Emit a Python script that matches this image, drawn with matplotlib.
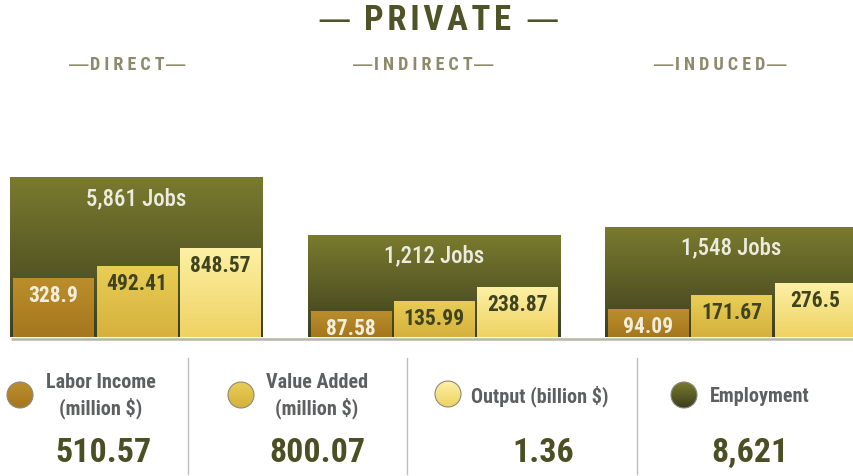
import numpy as np
import matplotlib
matplotlib.use('Agg')
import matplotlib.pyplot as plt
from matplotlib.patches import Circle
from matplotlib.colors import LinearSegmentedColormap

plt.rcParams['font.family'] = ['Roboto Condensed', 'Liberation Sans Narrow', 'Roboto', 'DejaVu Sans']

# ================================================================================
# data
groups = ['DIRECT', 'INDIRECT', 'INDUCED']
jobs = [5861, 1212, 1548]
labor_income = [328.9, 87.58, 94.09]      # million $
value_added = [492.41, 135.99, 171.67]    # million $
output = [848.57, 238.87, 276.5]          # million $

legend_labels = ['Labor Income\n(million $)', 'Value Added\n(million $)',
                 'Output (billion $)', 'Employment']
totals = ['%.2f' % sum(labor_income), '%.2f' % sum(value_added),
          '%.2f' % (sum(output) / 1000), '{:,}'.format(sum(jobs))]

# ================================================================================
# colours (top, bottom of gradient)
c_jobs = ('#7a7b2e', '#3c3e1e')
c_labor = ('#bb8e2c', '#a5771e')
c_value = ('#e9ce56', '#d5b13c')
c_output = ('#fdf1a6', '#eed262')
dark_text = '#40431f'
num_color = '#4a4f24'
title_color = '#4e5427'
sub_color = '#8e8a6c'

W, H = 854, 476
fig = plt.figure(figsize=(W / 100, H / 100), dpi=100)
fig.patch.set_facecolor('white')

# bars live between y=160px and y=337px
rect = [0, 1 - 337 / H, 1, 177 / H]
ax_jobs = fig.add_axes(rect)
ax = fig.add_axes(rect)
ax.patch.set_alpha(0)


def fwd(v):
    return np.sign(v) * np.abs(v) ** 0.2


def inv(y):
    return np.sign(y) * np.abs(y) ** 5


for a in (ax_jobs, ax):
    a.set_yscale('function', functions=(fwd, inv))
    a.set_xlim(-0.459, 2.412)
    a.axis('off')
ax_jobs.set_ylim(6.17, 8680)
ax.set_ylim(22.5, 6654)


def grad_fill(a, patch, top, bot):
    trans = a.transData + a.transAxes.inverted()
    x0, y0 = patch.get_x(), patch.get_y()
    (ax0, ay0) = trans.transform((x0, max(y0, 1e-9)))
    (ax1, ay1) = trans.transform((x0 + patch.get_width(), y0 + patch.get_height()))
    ay0 = max(ay0, 0)
    cmap = LinearSegmentedColormap.from_list('g', [bot, top])
    im = a.imshow(np.linspace(0, 1, 256).reshape(-1, 1), cmap=cmap, origin='lower',
                  extent=[ax0, ax1, ay0, ay1], transform=a.transAxes, aspect='auto',
                  zorder=patch.get_zorder() + 0.1, interpolation='bilinear')
    im.set_clip_path(patch)


x = np.arange(len(groups))

# employment background bars
jb = ax_jobs.bar(x, jobs, width=0.85, color=c_jobs[1], linewidth=0)
for b, j in zip(jb, jobs):
    grad_fill(ax_jobs, b, *c_jobs)
    ax_jobs.annotate('{:,} Jobs'.format(j), xy=(b.get_x() + b.get_width() / 2, j),
                     xytext=(0, -15), textcoords='offset points', ha='center', va='center',
                     fontsize=16.5, weight='medium', color='#ecebdf', zorder=5)

# money bars
series = [(labor_income, c_labor, '#f3eddb'), (value_added, c_value, dark_text),
          (output, c_output, dark_text)]
offsets = [-0.28, 0.0, 0.28]
for (vals, cols, tcol), off in zip(series, offsets):
    bars = ax.bar(x + off, vals, width=0.269, color=cols[1], linewidth=0)
    for b, v in zip(bars, vals):
        grad_fill(ax, b, *cols)
        t = ax.annotate(str(v), xy=(b.get_x() + b.get_width() / 2, v),
                        xytext=(0, -13), textcoords='offset points', ha='center', va='center',
                        fontsize=15.5, weight='bold', color=tcol, zorder=5)
        t.set_clip_on(True)

for a in (ax_jobs, ax):
    a.set_xlim(-0.459, 2.412)
ax_jobs.set_ylim(6.17, 8680)
ax.set_ylim(22.5, 6654)

# ================================================================================
# overlay in pixel coordinates for titles / legend
ov = fig.add_axes([0, 0, 1, 1], zorder=10)
ov.set_xlim(0, W)
ov.set_ylim(H, 0)
ov.axis('off')
ov.patch.set_alpha(0)


def dashed(xc, yc, word, size, dash_size, gap, color):
    t = ov.text(xc, yc, word, ha='center', va='center', fontsize=size,
                weight='bold', color=color)
    for side, ha, sgn in [(0, 'right', -1), (1, 'left', 1)]:
        ov.annotate('\u2014', xy=(side, 0.5), xycoords=t, xytext=(sgn * gap, 0),
                    textcoords='offset points', ha=ha, va='center', fontsize=dash_size,
                    family='DejaVu Sans', color=color)


dashed(438, 20, '\u200a'.join('PRIVATE'), 25, 24, 10, title_color)
sub_x = [127, 423, 720]
for g, sx in zip(groups, sub_x):
    dashed(sx, 65, ' '.join(g), 13, 15.5, 0.5, sub_color)

ov.plot([11, W], [338.5, 338.5], color='#b8b5a7', lw=1.8, solid_capstyle='butt')

for dx in [188, 407, 637]:
    ov.plot([dx, dx], [358, 474], color='#bdbdbd', lw=1)

circ_xy = [(20, 395), (241, 395), (448, 394), (684, 395)]
circ_cols = [c_labor, c_value, c_output, c_jobs]
label_x = [101, 317, 540, 760]
num_x = [104, 317, 543, 750]
for (cx, cy), cc, lab, lx, tot, nx in zip(circ_xy, circ_cols, legend_labels, label_x, totals, num_x):
    c = Circle((cx, cy), 13, facecolor=cc[1], edgecolor='none')
    ov.add_patch(c)
    cmap = LinearSegmentedColormap.from_list('g', [cc[0], cc[1]])
    im = ov.imshow(np.linspace(0, 1, 64).reshape(-1, 1), cmap=cmap, aspect='auto',
                   extent=[cx - 13, cx + 13, cy + 13, cy - 13], zorder=c.get_zorder() + 0.1)
    im.set_clip_path(c)
    ov.add_patch(Circle((cx, cy), 13, facecolor='none', edgecolor='#8d8b80', lw=0.8, zorder=3))
    ov.text(lx, 396, lab, ha='center', va='center', multialignment='center', fontsize=14.5,
            weight='bold', color='#5d5f60', linespacing=1.3)
    ov.text(nx, 453, tot, ha='center', va='center', fontsize=24.5, weight='bold', color=num_color)

ov.set_xlim(0, W)
ov.set_ylim(H, 0)

fig.savefig('out.png', dpi=100, facecolor='white')
